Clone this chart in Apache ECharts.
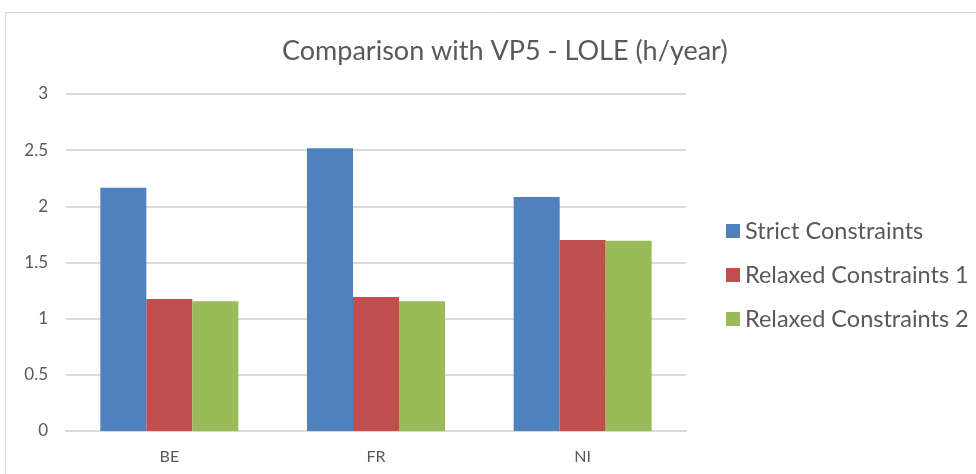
<!DOCTYPE html>
<html>
<head>
<meta charset="utf-8">
<script src="https://cdn.jsdelivr.net/npm/echarts@6/dist/echarts.min.js"></script>
<style>
  html, body { margin: 0; padding: 0; background: #fff; }
  #chart { width: 976px; height: 474px; }
</style>
</head>
<body>
<div id="chart"></div>
<script>
const categories = ['BE', 'FR', 'NI']
const strict = [2.166, 2.517, 2.083]
const relaxed1 = [1.174, 1.192, 1.70]
const relaxed2 = [1.156, 1.156, 1.693]
const yTicks = [0, 0.5, 1, 1.5, 2, 2.5, 3]

const font = 'Lato, "Open Sans", sans-serif'
const chart = echarts.init(document.getElementById('chart'))

chart.setOption({
  animation: false,
  title: {
    text: 'Comparison with VP5 - LOLE (h/year)',
    left: 277,
    top: 33,
    textStyle: { fontFamily: font, fontSize: 27, fontWeight: 'normal', color: '#595959' }
  },
  graphic: [{
    type: 'rect',
    shape: { x: 5.5, y: 12.5, width: 1000, height: 500 },
    style: { fill: 'none', stroke: '#d9d9d9', lineWidth: 1 },
    silent: true
  }],
  legend: {
    orient: 'vertical',
    left: 721,
    top: 214,
    itemWidth: 14,
    itemHeight: 14,
    itemGap: 20,
    icon: 'rect',
    textStyle: { fontFamily: font, fontSize: 23.5, color: '#595959', lineHeight: 24 },
    data: ['Strict Constraints', 'Relaxed Constraints 1', 'Relaxed Constraints 2']
  },
  grid: { left: 66, right: 290, top: 94, bottom: 43 },
  xAxis: {
    type: 'category',
    data: categories,
    axisLine: { lineStyle: { color: '#d9d9d9', width: 2 } },
    axisTick: { show: false },
    axisLabel: { fontFamily: font, fontSize: 16, color: '#595959', margin: 18 }
  },
  yAxis: {
    type: 'value',
    min: yTicks[0],
    max: yTicks[yTicks.length - 1],
    interval: 0.5,
    axisLine: { show: false },
    axisTick: { show: false },
    splitLine: { lineStyle: { color: '#d9d9d9', width: 2 } },
    axisLabel: { fontFamily: font, fontSize: 17, color: '#595959', margin: 18 }
  },
  series: [
    { name: 'Strict Constraints', type: 'bar', data: strict, barWidth: 46, barGap: '0%', itemStyle: { color: '#4f81bd' } },
    { name: 'Relaxed Constraints 1', type: 'bar', data: relaxed1, barWidth: 46, itemStyle: { color: '#c0504d' } },
    { name: 'Relaxed Constraints 2', type: 'bar', data: relaxed2, barWidth: 46, itemStyle: { color: '#9bbb59' } }
  ]
})
</script>
</body>
</html>
